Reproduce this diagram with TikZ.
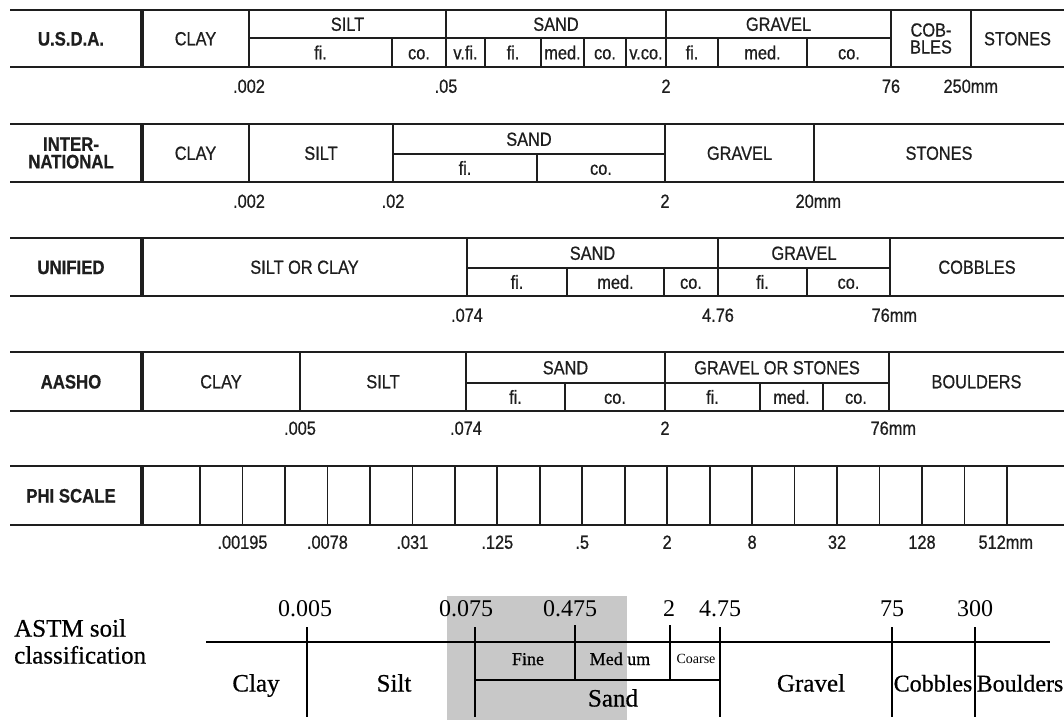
\documentclass[tikz,border=0pt]{standalone}
\usepackage{fontspec}
\newfontfamily\cond[FakeStretch=0.86, FakeBold=0.7]{Liberation Sans}
\newfontfamily\tms{Liberation Serif}
\newfontfamily\tmsb[FakeBold=0.6]{Liberation Serif}
\definecolor{ink}{HTML}{1E1E1E}
\definecolor{boxgray}{HTML}{C8C8C8}
\begin{document}
\begin{tikzpicture}[x=1pt,y=-1pt,
  grid/.style={draw=ink, line width=1.7pt},
  sepline/.style={draw=ink, line width=3.6pt},
  cell/.style={font=\cond\fontsize{19}{21}\selectfont, text=ink, inner sep=0pt, text height=13.6pt, text depth=0pt},
  cell2/.style={font=\cond\fontsize{19}{17}\selectfont, text=ink, inner sep=0pt, align=center},
  rowlab/.style={font=\cond\bfseries\fontsize{19.5}{19}\selectfont, text=ink, inner sep=0pt, text height=14pt, text depth=0pt},
  rowlab2/.style={font=\cond\bfseries\fontsize{19.5}{17.5}\selectfont, text=ink, inner sep=0pt, align=center},
  numlab/.style={cell},
  astmline/.style={draw=black, line width=1.1pt},
  astmnum/.style={font=\tms\fontsize{24}{24}\selectfont, inner sep=0pt, text height=16pt, text depth=0pt},
  astmlab/.style={font=\tmsb\fontsize{25}{25}\selectfont, inner sep=0pt, text height=17pt, text depth=0pt},
  astmsmall/.style={font=\tmsb\fontsize{18}{18}\selectfont, inner sep=0pt, text height=12pt, text depth=0pt}
]
\useasboundingbox (0,0) rectangle (1064,720);

% ---------------- U.S.D.A. ----------------
\draw[grid] (10,10) -- (1064,10);
\draw[grid] (10,67) -- (1064,67);
\draw[grid] (249,38) -- (891,38);
\foreach \x in {249,446,666,891,971} \draw[grid] (\x,10) -- (\x,67);
\foreach \x in {392,485,541,584,626,718,807} \draw[grid] (\x,38) -- (\x,67);
\draw[sepline] (142,10) -- (142,67);
\node[rowlab] (usda) at (71,38.5) {U.S.D.A.};
\node[cell] (u-clay) at (195.5,38.5) {CLAY};
\node[cell] (u-silt) at (347.5,24) {SILT};
\node[cell] (u-silt-fi) at (320.5,52.5) {fi.};
\node[cell] (u-silt-co) at (419,52.5) {co.};
\node[cell] (u-sand) at (556,24) {SAND};
\node[cell] (u-sand-vfi) at (465.5,52.5) {v.fi.};
\node[cell] (u-sand-fi) at (513,52.5) {fi.};
\node[cell] (u-sand-med) at (562.5,52.5) {med.};
\node[cell] (u-sand-co) at (605,52.5) {co.};
\node[cell] (u-sand-vco) at (646,52.5) {v.co.};
\node[cell] (u-grav) at (778.5,24) {GRAVEL};
\node[cell] (u-grav-fi) at (692,52.5) {fi.};
\node[cell] (u-grav-med) at (762.5,52.5) {med.};
\node[cell] (u-grav-co) at (849,52.5) {co.};
\node[cell2] (u-cob) at (931,38.5) {COB-\\BLES};
\node[cell] (u-stones) at (1017.5,38.5) {STONES};
\node[numlab] (u-n1) at (249,86) {.002};
\node[numlab] (u-n2) at (446,86) {.05};
\node[numlab] (u-n3) at (666,86) {2};
\node[numlab] (u-n4) at (891,86) {76};
\node[numlab, anchor=east] (u-n5) at (971,86) {250\rlap{mm}};

% ---------------- INTERNATIONAL ----------------
\draw[grid] (10,124) -- (1064,124);
\draw[grid] (10,182) -- (1064,182);
\draw[grid] (393,154) -- (665,154);
\foreach \x in {249,393,665,814} \draw[grid] (\x,124) -- (\x,182);
\draw[grid] (537,154) -- (537,182);
\draw[sepline] (142,124) -- (142,182);
\node[rowlab2] (intl) at (71,153) {INTER-\\NATIONAL};
\node[cell] (i-clay) at (195.5,153) {CLAY};
\node[cell] (i-silt) at (321,153) {SILT};
\node[cell] (i-sand) at (529,139) {SAND};
\node[cell] (i-sand-fi) at (465,168) {fi.};
\node[cell] (i-sand-co) at (601,168) {co.};
\node[cell] (i-grav) at (739.5,153) {GRAVEL};
\node[cell] (i-stones) at (939,153) {STONES};
\node[numlab] (i-n1) at (249,201) {.002};
\node[numlab] (i-n2) at (393,201) {.02};
\node[numlab] (i-n3) at (665,201) {2};
\node[numlab, anchor=east] (i-n4) at (814,201) {20\rlap{mm}};

% ---------------- UNIFIED ----------------
\draw[grid] (10,238) -- (1064,238);
\draw[grid] (10,296) -- (1064,296);
\draw[grid] (467,268) -- (890,268);
\foreach \x in {467,718,890} \draw[grid] (\x,238) -- (\x,296);
\foreach \x in {567,664,807} \draw[grid] (\x,268) -- (\x,296);
\draw[sepline] (142,238) -- (142,296);
\node[rowlab] (unif) at (71,267) {UNIFIED};
\node[cell] (n-soc) at (304.5,267) {SILT OR CLAY};
\node[cell] (n-sand) at (592.5,253) {SAND};
\node[cell] (n-sand-fi) at (517,282) {fi.};
\node[cell] (n-sand-med) at (615.5,282) {med.};
\node[cell] (n-sand-co) at (691,282) {co.};
\node[cell] (n-grav) at (804,253) {GRAVEL};
\node[cell] (n-grav-fi) at (762.5,282) {fi.};
\node[cell] (n-grav-co) at (848.5,282) {co.};
\node[cell] (n-cob) at (977,267) {COBBLES};
\node[numlab] (n-n1) at (467,315) {.074};
\node[numlab] (n-n2) at (718,315) {4.76};
\node[numlab, anchor=east] (n-n3) at (890,315) {76\rlap{mm}};

% ---------------- AASHO ----------------
\draw[grid] (10,352) -- (1064,352);
\draw[grid] (10,411) -- (1064,411);
\draw[grid] (466,383) -- (889,383);
\foreach \x in {300,466,665,889} \draw[grid] (\x,352) -- (\x,411);
\foreach \x in {565,760,823} \draw[grid] (\x,383) -- (\x,411);
\draw[sepline] (142,352) -- (142,411);
\node[rowlab] (aasho) at (71,381.5) {AASHO};
\node[cell] (a-clay) at (221,381.5) {CLAY};
\node[cell] (a-silt) at (383,381.5) {SILT};
\node[cell] (a-sand) at (565.5,367.5) {SAND};
\node[cell] (a-sand-fi) at (515.5,397) {fi.};
\node[cell] (a-sand-co) at (615,397) {co.};
\node[cell] (a-grav) at (777,367.5) {GRAVEL OR STONES};
\node[cell] (a-grav-fi) at (712.5,397) {fi.};
\node[cell] (a-grav-med) at (791.5,397) {med.};
\node[cell] (a-grav-co) at (856,397) {co.};
\node[cell] (a-bould) at (976.5,381.5) {BOULDERS};
\node[numlab] (a-n1) at (300,428) {.005};
\node[numlab] (a-n2) at (466,428) {.074};
\node[numlab] (a-n3) at (665,428) {2};
\node[numlab, anchor=east] (a-n4) at (889,428) {76\rlap{mm}};

% ---------------- PHI SCALE ----------------
\draw[grid] (10,466) -- (1064,466);
\draw[grid] (10,525) -- (1064,525);
\foreach \k in {0,...,19} \draw[grid] ({200+42.47*\k},466) -- ({200+42.47*\k},525);
\draw[sepline] (142,466) -- (142,525);
\node[rowlab] (phi) at (71,495.5) {PHI SCALE};
\foreach \k/\t in {1/.00195,3/.0078,5/.031,7/.125,9/.5,11/2,13/8,15/32,17/128}
  \node[numlab] (p-\k) at ({200+42.47*\k},542) {\t};
\node[numlab, anchor=east] (p-19) at (1006,542) {512\rlap{mm}};

% ---------------- ASTM ----------------
\fill[boxgray] (447,596) rectangle (627,720);
\node[font=\tmsb\fontsize{25}{27}\selectfont, inner sep=0pt, align=left, anchor=north west] (astm) at (14,619) {ASTM soil\\classification};
\draw[astmline] (206,642) -- (1050,642);
\foreach \x in {307,475,720,892,975} \draw[astmline] (\x,627) -- (\x,717);
\foreach \x in {575,670} \draw[astmline] (\x,625) -- (\x,680);
\draw[astmline] (475,680) -- (720,680);
\node[astmnum] (t1) at (305,608) {0.005};
\node[astmnum] (t2) at (466,608) {0.075};
\node[astmnum] (t3) at (570,608) {0.475};
\node[astmnum] (t4) at (669,608) {2};
\node[astmnum] (t5) at (720,608) {4.75};
\node[astmnum] (t6) at (892,608) {75};
\node[astmnum] (t7) at (975,608) {300};
\node[astmlab] (s-clay) at (256,683) {Clay};
\node[astmlab] (s-silt) at (394,683) {Silt};
\node[astmsmall] (s-fine) at (528,659) {Fine};
\node[astmsmall] (s-med) at (620,659) {Med um};
\node[font=\tms\fontsize{14}{14}\selectfont, inner sep=0pt, text height=9.5pt, text depth=0pt] (s-coarse) at (696,659) {Coarse};
\node[astmlab] (s-sand) at (613,698) {Sand};
\node[astmlab] (s-grav) at (811,683) {Gravel};
\node[astmlab, font=\tmsb\fontsize{24}{24}\selectfont] (s-cob) at (933,683) {Cobbles};
\node[astmlab, font=\tmsb\fontsize{24}{24}\selectfont] (s-bould) at (1020,683) {Boulders};
\end{tikzpicture}
\end{document}
